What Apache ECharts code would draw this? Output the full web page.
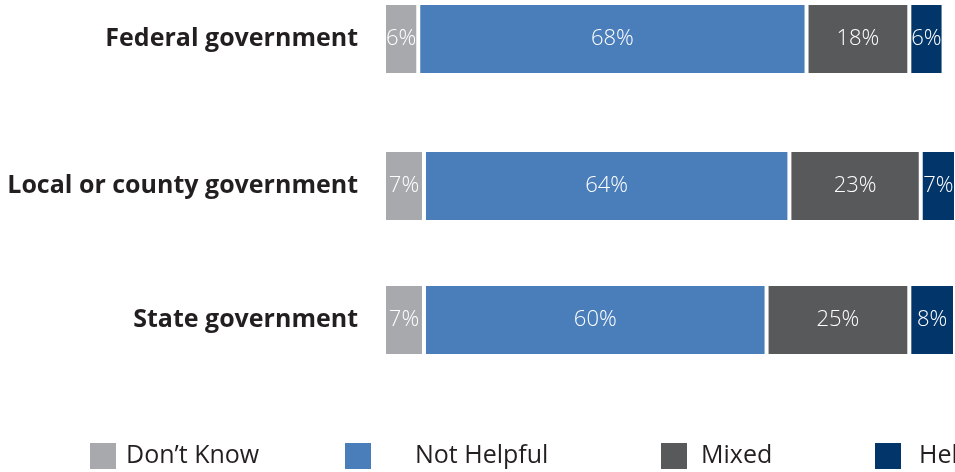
<!DOCTYPE html>
<html>
<head>
<meta charset="utf-8">
<script src="https://cdn.jsdelivr.net/npm/echarts@6/dist/echarts.min.js"></script>
<style>
  html, body { margin: 0; padding: 0; background: #ffffff; }
  #chart { width: 955px; height: 472px; }
</style>
</head>
<body>
<div id="chart"></div>
<script>
// Survey rows and the share of each answer (percent)
const categories = ['Federal government', 'Local or county government', 'State government'];
const seriesNames = ['Don\u2019t Know', 'Not Helpful', 'Mixed', 'Helpful'];
const dontKnow = [6, 7, 7];
const notHelpful = [68, 64, 60];
const mixed = [18, 23, 25];
const helpful = [6, 7, 8];

const seriesValues = [dontKnow, notHelpful, mixed, helpful];
const colors = ['#a7a9ac', '#4a7ebb', '#58595b', '#02366b'];

// one grid per row so each bar sits at its own height
const rowTops = [3, 150, 284];
const barSize = 72;
const gridLeft = 384;
const axisMax = 100;

const grids = [], xAxes = [], yAxes = [], series = [];
categories.forEach(function (cat, i) {
  grids.push({ left: gridLeft, right: 0, top: rowTops[i], height: barSize, containLabel: false });
  xAxes.push({ type: 'value', gridIndex: i, min: 0, max: axisMax, show: false });
  yAxes.push({
    type: 'category', gridIndex: i, data: [cat],
    axisLine: { show: false }, axisTick: { show: false }, splitLine: { show: false },
    axisLabel: {
      margin: 26, color: '#231f20', fontFamily: 'Open Sans', fontWeight: 'bold', fontSize: 25
    }
  });
  seriesNames.forEach(function (name, s) {
    series.push({
      type: 'bar', name: name, stack: 'row' + i,
      xAxisIndex: i, yAxisIndex: i,
      barWidth: barSize,
      data: [seriesValues[s][i]],
      itemStyle: { color: colors[s], borderColor: '#ffffff', borderWidth: 2 },
      label: {
        show: true, position: 'inside', formatter: '{c}%',
        color: '#ffffff', fontFamily: 'Open Sans', fontWeight: 300, fontSize: 22
      },
      emphasis: { disabled: true },
      animation: false
    });
  });
});

// legend entries laid out in separate columns along the bottom
const legendLeft = [88, 343, 659, 873];
const legendTextPad = [4, 38, 8, 12];
const legends = seriesNames.map(function (name, s) {
  return {
    left: legendLeft[s], top: 441, padding: 0,
    itemWidth: 28, itemHeight: 28, icon: 'rect',
    selectedMode: false,
    data: [name],
    textStyle: {
      color: '#231f20', fontFamily: 'Open Sans', fontSize: 25,
      padding: [0, 0, 0, legendTextPad[s]]
    }
  };
});

const chart = echarts.init(document.getElementById('chart'), null, { renderer: 'canvas' });
chart.setOption({
  backgroundColor: '#ffffff',
  animation: false,
  color: colors,
  legend: legends,
  grid: grids,
  xAxis: xAxes,
  yAxis: yAxes,
  series: series
});
</script>
</body>
</html>
